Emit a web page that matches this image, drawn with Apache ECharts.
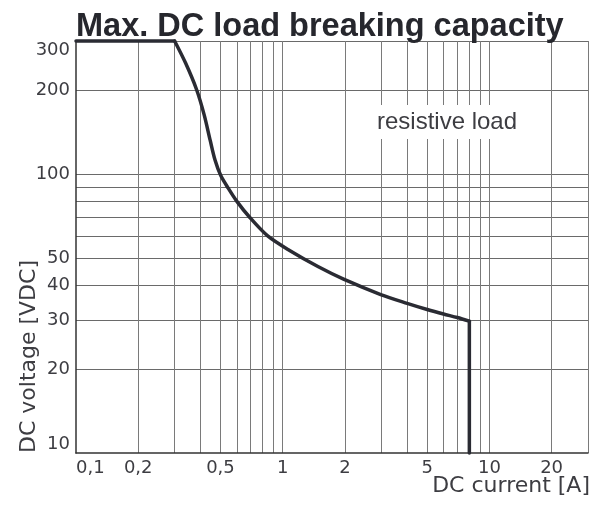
<!DOCTYPE html>
<html><head><meta charset="utf-8">
<script src="https://cdn.jsdelivr.net/npm/echarts@6/dist/echarts.min.js"></script>
<style>html,body{margin:0;padding:0;background:#fff}#c{width:593px;height:508px}</style>
</head><body><div id="c"></div>
<script>
// DC current [A] and DC voltage [VDC] of the breaking-capacity curve
const currentA = [0.1, 0.3, 0.339, 0.383, 0.417, 0.446, 0.471, 0.501, 0.545, 0.599, 0.692, 0.846, 1.08, 1.48, 1.97, 2.98, 4, 5, 6, 7, 8, 8];
const voltageV = [300, 300, 250, 201, 163, 132, 112, 99, 89, 80, 70, 60, 53.2, 46.6, 42, 37, 34.4, 32.7, 31.5, 30.6, 29.7, 10];
const xTickLabels = [0.1, 0.2, 0.5, 1, 2, 5, 10, 20];
const yTickLabels = [10, 20, 30, 40, 50, 100, 200, 300];
const xGridValues = [0.2, 0.3, 0.4, 0.5, 0.6, 0.7, 0.8, 0.9, 1, 2, 3, 4, 5, 6, 7, 8, 9, 10, 20, 30];
const yGridValues = [20, 30, 40, 50, 60, 70, 80, 90, 100, 200, 300];

const labelFont = 'DejaVu Sans';
const textCol = '#3d3d42';
const lineCol = '#2a2b33';
const fmt = v => String(+Number(v).toPrecision(3)).replace('.', ',');
const pts = currentA.map((x, i) => [x, voltageV[i]]);
const n = pts.length;

const chart = echarts.init(document.getElementById('c'), null, {renderer: 'canvas'});
const seg = (data, smooth) => ({
  type: 'line', showSymbol: false, clip: false, z: 10, smooth: smooth,
  data: data, lineStyle: {color: lineCol, width: 3.5, join: 'round', cap: 'round'}
});
chart.setOption({
  animation: false,
  title: {
    text: 'Max. DC load breaking capacity',
    left: 76, top: 11, padding: 0,
    textStyle: {fontFamily: 'Liberation Sans', fontWeight: 'bold', fontSize: 32.5, color: '#26272d'}
  },
  grid: {left: 76, right: 5, top: 41, bottom: 55, outerBoundsMode: 'none', containLabel: false},
  xAxis: {
    type: 'log', logBase: 10, min: 0.1, max: 30,
    axisLine: {show: true, lineStyle: {color: '#333', width: 1.5}},
    axisTick: {show: false, customValues: xGridValues},
    splitLine: {show: true, lineStyle: {color: '#7a7a7a', width: 1}},
    axisLabel: {customValues: xTickLabels, formatter: fmt, fontFamily: labelFont, fontSize: 18, color: textCol, margin: 6, alignMinLabel: 'left'}
  },
  yAxis: {
    type: 'log', logBase: 10, min: 10, max: 300,
    name: 'DC voltage [VDC]', nameLocation: 'start', nameGap: 0, nameRotate: 90,
    nameTextStyle: {fontFamily: labelFont, fontSize: 22, color: textCol, align: 'left', verticalAlign: 'bottom', padding: [0, 0, 36, 0]},
    axisLine: {show: true, lineStyle: {color: '#333', width: 1.5}},
    axisTick: {show: false, customValues: yGridValues},
    splitLine: {show: true, lineStyle: {color: '#6a6a6a', width: 1}},
    axisLabel: {customValues: yTickLabels, formatter: fmt, fontFamily: labelFont, fontSize: 18, color: textCol, margin: 6,
      verticalAlignMinLabel: 'bottom', verticalAlignMaxLabel: 'top'}
  },
  graphic: [{
    type: 'text', z: 50, x: 447, y: 122,
    style: {text: 'resistive load', fontFamily: 'Liberation Sans', fontSize: 24, fill: textCol,
      align: 'center', verticalAlign: 'middle', backgroundColor: '#fff', padding: [5, 6]}
  }, {
    type: 'text', z: 50, x: 590, y: 486,
    style: {text: 'DC current [A]', fontFamily: labelFont, fontSize: 22, fill: textCol, align: 'right', verticalAlign: 'middle'}
  }],
  series: [
    seg(pts.slice(0, 2), false),
    seg(pts.slice(1, n - 1), 0.3),
    seg(pts.slice(n - 2), false)
  ]
});
</script></body></html>
